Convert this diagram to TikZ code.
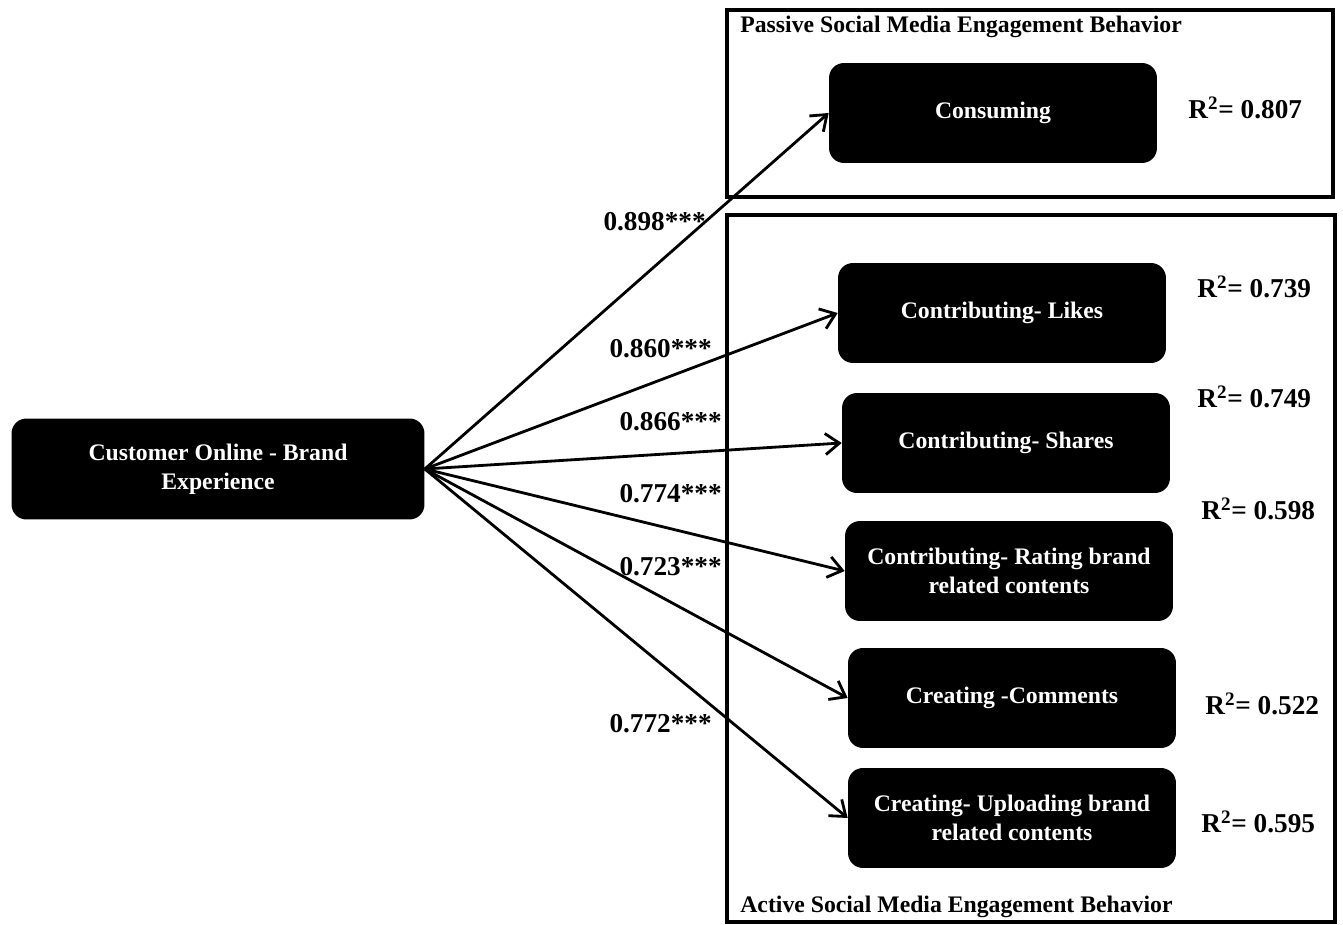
\documentclass[tikz,border=0pt]{standalone}
\usepackage{fontspec}
\setmainfont{Liberation Serif}
\usetikzlibrary{arrows.meta}
\tikzset{
  blackbox/.style={rectangle, rounded corners=8.5pt, fill=black, text=white, align=center,
    font=\fontsize{13.5}{16.4}\selectfont\bfseries, minimum width=6.56cm, minimum height=2cm},
  coef/.style={anchor=east, inner sep=0pt, font=\fontsize{15.5}{18}\selectfont\bfseries},
  rsq/.style={anchor=west, inner sep=0pt, font=\fontsize{15.5}{18}\selectfont\bfseries},
  grouplabel/.style={anchor=west, inner sep=0pt, font=\fontsize{13.5}{16}\selectfont\bfseries},
  groupbox/.style={draw, line width=2.3pt},
  effect/.style={-{Straight Barb[length=8pt,width=12pt]}, line width=1.6pt}
}
\begin{document}
\begin{tikzpicture}[x=0.02cm, y=-0.02cm]
  \useasboundingbox (0,0) rectangle (1343,925);
  % groups
  \draw[groupbox] (727,10) rectangle (1333,197);
  \draw[groupbox] (727,215) rectangle (1335,922);
  \node[grouplabel] (passive) at (740,27) {Passive Social Media Engagement Behavior};
  \node[grouplabel] (active) at (740,907) {Active Social Media Engagement Behavior};
  % constructs
  \node[blackbox, minimum width=8.26cm, minimum height=2.02cm] (cobe) at (218,469) {Customer Online - Brand\\Experience};
  \node[blackbox] (cons) at (993,113) {Consuming};
  \node[blackbox] (likes) at (1002,313) {Contributing- Likes};
  \node[blackbox] (shares) at (1006,443) {Contributing- Shares};
  \node[blackbox] (rating) at (1009,571) {Contributing- Rating brand\\related contents};
  \node[blackbox] (comm) at (1012,698) {Creating -Comments};
  \node[blackbox] (upload) at (1012,818) {Creating- Uploading brand\\related contents};
  % paths and coefficients
  \foreach \t/\val/\lx/\ly in {cons/0.898/706/222, likes/0.860/712/349, shares/0.866/722/422,
      rating/0.774/722/494, comm/0.723/722/567, upload/0.772/712/724} {
    \draw[effect] (cobe.east) -- (\t.west);
    \node[coef] (c-\t) at (\lx,\ly) {\val***};
  }
  % explained variance
  \foreach \t/\val/\rx/\ry in {cons/0.807/1188/108, likes/0.739/1197/287, shares/0.749/1197/397,
      rating/0.598/1201/509, comm/0.522/1205/704, upload/0.595/1201/822} {
    \node[rsq] (r-\t) at (\rx,\ry) {R\textsuperscript{2}= \val};
  }
\end{tikzpicture}
\end{document}
